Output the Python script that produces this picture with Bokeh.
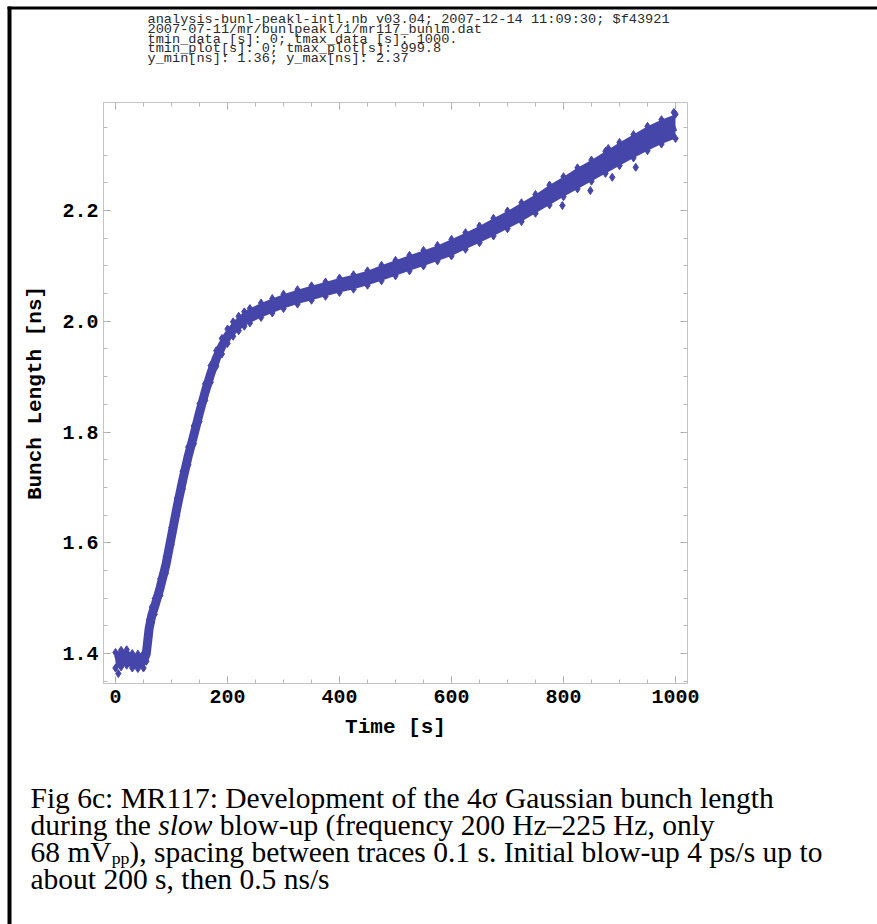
from bokeh.plotting import figure
from bokeh.models import Range1d, FixedTicker, LinearAxis, PrintfTickFormatter, CustomJSTickFormatter
from bokeh.core.properties import value
from bokeh.embed import file_html
from bokeh.resources import INLINE

# ---------------- data ----------------
time_s = [0, 10, 20, 30, 40, 50, 55, 60, 65, 70, 80, 90, 100, 110, 120, 130, 140,
          150, 160, 170, 180, 190, 200, 210, 220, 230, 240, 260, 280, 300, 325, 350,
          375, 400, 425, 450, 475, 500, 525, 550, 575, 600, 625, 650, 675, 700, 725,
          750, 775, 800, 825, 850, 875, 900, 925, 950, 975, 1000]
center_ns = [1.388, 1.391, 1.393, 1.387, 1.386, 1.387, 1.400, 1.445, 1.470, 1.485,
             1.520, 1.560, 1.612, 1.665, 1.713, 1.757, 1.795, 1.835, 1.872, 1.905,
             1.933, 1.955, 1.973, 1.986, 1.996, 2.004, 2.010, 2.020, 2.028, 2.036,
             2.044, 2.051, 2.058, 2.065, 2.071, 2.078, 2.087, 2.096, 2.105, 2.114,
             2.123, 2.133, 2.145, 2.157, 2.170, 2.183, 2.197, 2.212, 2.228, 2.243,
             2.258, 2.272, 2.287, 2.302, 2.316, 2.330, 2.342, 2.352]
half_ns = [0.014, 0.015, 0.014, 0.013, 0.013, 0.013, 0.014, 0.016, 0.014, 0.014,
           0.015, 0.015, 0.016, 0.016, 0.016, 0.016, 0.016, 0.016, 0.015, 0.015,
           0.014, 0.014, 0.013, 0.013, 0.013, 0.013, 0.013, 0.013, 0.013, 0.013,
           0.013, 0.013, 0.013, 0.013, 0.013, 0.013, 0.014, 0.014, 0.014, 0.014,
           0.014, 0.015, 0.015, 0.015, 0.016, 0.016, 0.017, 0.017, 0.018, 0.018,
           0.019, 0.019, 0.020, 0.021, 0.021, 0.022, 0.022, 0.022]
outlier_t = [5, 798, 848, 887, 929, 997, 880]
outlier_ns = [1.364, 2.209, 2.236, 2.260, 2.278, 2.377, 2.312]

x_ticks = [0, 200, 400, 600, 800, 1000]
x_minor = [0, 50, 100, 150, 200, 250, 300, 350, 400, 450, 500, 550, 600, 650, 700,
           750, 800, 850, 900, 950, 1000]
y_ticks = [1.4, 1.6, 1.8, 2.0, 2.2]
y_minor = [1.35, 1.4, 1.45, 1.5, 1.55, 1.6, 1.65, 1.7, 1.75, 1.8, 1.85, 1.9, 1.95,
           2.0, 2.05, 2.1, 2.15, 2.2, 2.25, 2.3, 2.35]

header_lines = [
    "analysis-bunl-peakl-intl.nb v03.04; 2007-12-14 11:09:30; $f43921",
    "2007-07-11/mr/bunlpeakl/1/mr117_bunlm.dat",
    "tmin_data [s]: 0; tmax_data [s]: 1000.",
    "tmin_plot[s]: 0; tmax_plot[s]: 999.8",
    "y_min[ns]: 1.36; y_max[ns]: 2.37",
]
x_title = "Time [s]"
y_title = "Bunch Length [ns]"

# ---------------- page geometry (pixels) ----------------
W, H = 877, 924
FL, FR, FT, FB = 103, 687, 102, 683
X0, X1 = -21.43, 1021.43
Y0, Y1 = 1.346, 2.395
BLUE = "#4646aa"
FRAME = "#c4c4c4"


def dx(px):
    return X0 + (px - FL) * (X1 - X0) / (FR - FL)


def dy(py):
    return Y1 - (py - FT) * (Y1 - Y0) / (FB - FT)


p = figure(width=W, height=H, x_range=Range1d(X0, X1), y_range=Range1d(Y0, Y1),
           output_backend="svg", toolbar_location=None,
           min_border_left=FL, min_border_right=W - FR,
           min_border_top=FT, min_border_bottom=H - FB)
p.background_fill_color = "white"
p.border_fill_color = "white"
p.outline_line_color = FRAME
p.xgrid.visible = False
p.ygrid.visible = False

xt = FixedTicker(ticks=x_ticks, minor_ticks=x_minor)
yt = FixedTicker(ticks=y_ticks, minor_ticks=y_minor)


def style_axis(ax):
    ax.axis_line_color = FRAME
    ax.major_tick_line_color = "#a8a8a8"
    ax.minor_tick_line_color = "#b8b8b8"
    ax.major_tick_in = 7
    ax.major_tick_out = 0
    ax.minor_tick_in = 4
    ax.minor_tick_out = 0
    ax.major_label_text_font = "Liberation Mono"
    ax.major_label_text_font_style = "bold"
    ax.major_label_text_font_size = "20px"
    ax.major_label_text_color = "black"
    ax.axis_label_text_font = "Liberation Mono"
    ax.axis_label_text_font_style = "bold"
    ax.axis_label_text_font_size = "21px"
    ax.axis_label_text_color = "black"


xa = p.xaxis[0]
xa.ticker = xt
style_axis(xa)
xa.major_label_standoff = 6
xa.axis_label = x_title
xa.axis_label_standoff = 10

ya = p.yaxis[0]
ya.ticker = yt
ya.formatter = PrintfTickFormatter(format="%.1f")
style_axis(ya)
ya.major_label_standoff = 5
ya.axis_label = y_title
ya.axis_label_standoff = 12

empty = CustomJSTickFormatter(code="return ''")
top_ax = LinearAxis(ticker=xt, formatter=empty)
style_axis(top_ax)
p.add_layout(top_ax, "above")
right_ax = LinearAxis(ticker=yt, formatter=empty)
style_axis(right_ax)
p.add_layout(right_ax, "right")

# ---------------- data marks ----------------
low_ns = [c - h for c, h in zip(center_ns, half_ns)]
high_ns = [c + h for c, h in zip(center_ns, half_ns)]
p.varea(x=time_s, y1=low_ns, y2=high_ns, fill_color=BLUE, fill_alpha=1.0)
p.line(time_s, center_ns, line_width=9, line_color=BLUE, line_join="round")
p.scatter(time_s, low_ns, marker="diamond", size=8, color=BLUE)
p.scatter(time_s, high_ns, marker="diamond", size=8, color=BLUE)
p.scatter(outlier_t, outlier_ns, marker="diamond", size=8, color=BLUE)

# ---------------- page decorations outside the frame (overlay level) ----------------
p.quad(left=[dx(7), dx(7)], right=[dx(W + 2), dx(11)], top=[dy(6), dy(6)],
       bottom=[dy(9), dy(H + 2)], fill_color="black", line_color=None, level="overlay")

hdr_base = [19, 28.8, 38.6, 48.4, 58.2]
p.text(x=[dx(147)] * len(header_lines), y=[dy(b) for b in hdr_base], text=header_lines,
       text_font=value("Liberation Mono"), text_font_size="13.6px",
       text_color="#2a2a2a", text_baseline="alphabetic", text_align="left",
       level="overlay")

S = 29.5
cx = 30
cb = [797, 824, 851, 878]


def ctext(x, b, t, size=S, style="normal"):
    p.text(x=[dx(x)], y=[dy(b)], text=[t], text_font=value("Liberation Serif"),
           text_font_size=f"{size}px", text_font_style=style,
           text_color="black", text_baseline="alphabetic", text_align="left",
           level="overlay")


SP = 0.25 * S   # width of a space in the serif font
ctext(cx, cb[0], "Fig 6c: MR117: Development of the 4\u03c3 Gaussian bunch length")
ctext(cx, cb[1], "during the")
ctext(cx + 4.333 * S, cb[1], "slow", style="italic")
ctext(cx + (4.333 + 1.834) * S + SP, cb[1], "blow-up (frequency 200 Hz\u2013225 Hz, only")
ctext(cx, cb[2], "68 mV")
ctext(cx + 2.75 * S, cb[2] + 0.22 * S, "pp", size=0.6 * S)
ctext(cx + 2.75 * S + 0.6 * S, cb[2], "), spacing between traces 0.1 s. Initial blow-up 4 ps/s up to")
ctext(cx, cb[3], "about 200 s, then 0.5 ns/s")

open("out.html", "w").write(file_html(p, INLINE))
